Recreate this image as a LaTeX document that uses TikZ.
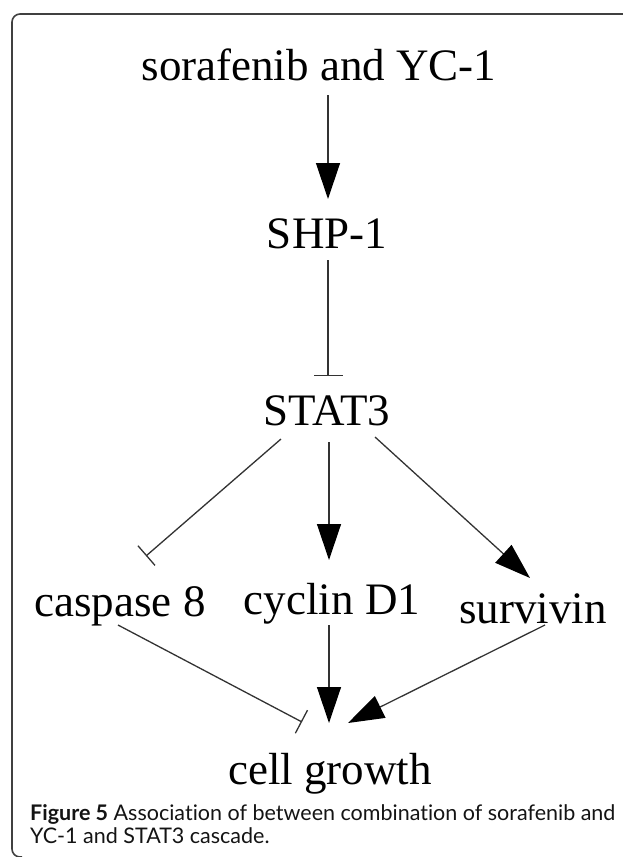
\documentclass[tikz,border=0pt]{standalone}
\usepackage{fontspec}
\setmainfont{Liberation Serif}
\newfontfamily\capfont[Ligatures=NoCommon]{Lato}
\usetikzlibrary{arrows.meta}
\begin{document}
\begin{tikzpicture}[x=1pt,y=-1pt,
  lbl/.style={anchor=base, inner sep=0pt, font=\fontsize{45}{54}\selectfont},
  act/.style={draw=black!80, line width=1.3pt, -{Triangle[length=36pt,width=24pt,fill=black,color=black]}},
  inh/.style={draw=black!80, line width=1.3pt, -{Bar[width=26pt,line width=1.3pt]}},
  inhwide/.style={inh, -{Bar[width=29pt,line width=1.3pt]}},
  frame/.style={draw=black!75, line width=1.6pt, rounded corners=8pt},
  captxt/.style={anchor=base west, inner sep=0pt, font=\capfont\fontsize{21.5}{23}\selectfont, text=black!92}]
\useasboundingbox (0,0) rectangle (622,857);
\draw[frame] (640,14) -- (12,14) -- (12,857) -- (22,857);
\node[lbl] (sor) at (319,80) {sorafenib and YC-1};
\node[lbl] (shp) at (327,248) {SHP-1};
\node[lbl] (stat) at (327,425) {STAT3};
\node[lbl] (casp) at (120,616) {caspase 8};
\node[lbl] (cyc) at (332,614) {cyclin D1};
\node[lbl] (surv) at (533,623) {survivin};
\node[lbl] (cell) at (330,784) {cell growth};
\draw[act] ([shift={(9,15)}]sor.base) -- ([shift={(1,-49)}]shp.base);
\draw[inhwide] ([shift={(1,12)}]shp.base) -- ([shift={(1,-49)}]stat.base);
\draw[inh] ([shift={(-46,14)}]stat.base) -- ([shift={(26,-60)}]casp.base);
\draw[act] ([shift={(2,17)}]stat.base) -- ([shift={(-3,-54)}]cyc.base);
\draw[act] ([shift={(48,12)}]stat.base) -- ([shift={(-3,-45)}]surv.base);
\draw[inh] ([shift={(-2,9)}]casp.base) -- ([shift={(-28,-62)}]cell.base);
\draw[act] ([shift={(-3,11)}]cyc.base) -- ([shift={(-1,-61)}]cell.base);
\draw[act] ([shift={(12,2)}]surv.base) -- ([shift={(18,-61)}]cell.base);
\node[captxt] (fig) at (30,820) {\textbf{Figure 5} Association of between combination of sorafenib and};
\node[captxt] (fig2) at (30,843) {YC-1 and STAT3 cascade.};
\end{tikzpicture}
\end{document}
